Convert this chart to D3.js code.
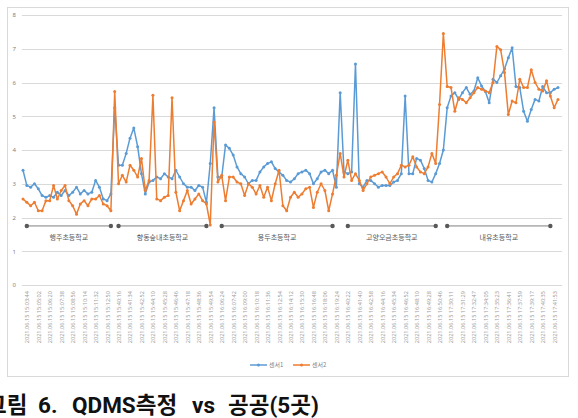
<!DOCTYPE html>
<html>
<head>
<meta charset="utf-8">
<script src="https://cdn.jsdelivr.net/npm/d3@7"></script>
<style>
  html, body { margin: 0; padding: 0; background: #fff; }
  svg { display: block; }
  text { font-family: "Noto Sans CJK KR", "Noto Sans", sans-serif; }
</style>
</head>
<body>
<svg id="chart" width="578" height="418"></svg>
<script>
// ---- data ----
const seriesNames = ["센서1", "센서2"];
const sensor1 = [
  3.4, 2.95, 2.9, 3.0, 2.85, 2.65, 2.6, 2.65, 2.6, 2.75, 2.65, 2.8, 2.65, 2.75, 2.9, 2.7, 2.8, 2.7, 2.75, 3.1, 2.9, 2.55, 2.5, 2.7,
  5.25, 3.55, 3.55, 3.9, 4.35, 4.65, 4.1, 3.3, 2.7, 3.05, 3.1, 3.2, 3.15, 3.3, 3.2, 3.15, 3.4, 3.2, 3.0, 2.9, 2.9, 2.8, 2.95, 2.9, 2.45, 3.6,
  5.25, 3.2, 3.2, 4.15, 4.05, 3.85, 3.5, 3.3, 3.2, 3.0, 3.1, 3.1, 3.35, 3.5, 3.6, 3.65, 3.45, 3.35, 3.25, 3.1, 3.05, 3.15, 3.3, 3.35, 3.4, 3.3, 3.0, 3.15, 3.35, 3.4, 3.3, 3.4, 2.9,
  5.7, 3.35, 3.3, 3.35, 6.55, 3.0, 2.9, 3.1, 3.1, 3.0, 2.9, 2.95, 2.95, 2.95, 3.05, 3.1, 3.3, 5.6, 3.3, 3.3, 3.75, 3.7, 3.45, 3.1, 3.05, 3.3, 3.6, 4.0,
  5.25, 5.6, 5.7, 5.5, 5.7, 5.85, 5.65, 5.75, 6.14, 5.9, 5.73, 5.4, 6.1, 6.0, 6.2, 6.4, 6.73, 7.03, 5.88, 5.85, 5.15, 4.85, 5.2, 5.5, 5.45, 5.88, 5.7, 5.7, 5.8, 5.85
];
const sensor2 = [
  2.55, 2.45, 2.35, 2.45, 2.2, 2.2, 2.5, 2.5, 2.95, 2.55, 2.8, 2.95, 2.5, 2.35, 2.1, 2.4, 2.5, 2.35, 2.55, 2.55, 2.65, 2.4, 2.35, 2.2,
  5.73, 3.0, 3.25, 3.05, 3.55, 3.4, 3.2, 3.75, 2.8, 3.1, 5.62, 2.55, 2.5, 2.6, 2.65, 5.55, 2.75, 2.2, 2.5, 2.8, 2.4, 2.55, 2.7, 2.5, 2.4, 1.78,
  4.83, 3.05, 3.25, 2.5, 3.2, 3.2, 3.05, 3.0, 2.65, 3.0, 2.9, 2.7, 2.95, 2.6, 2.9, 2.5, 3.0, 3.4, 2.35, 2.2, 2.6, 2.75, 2.6, 2.7, 2.85, 2.9, 2.3, 2.75, 3.0, 2.8, 2.2, 2.7, 3.25,
  3.9, 3.2, 3.7, 3.1, 3.3, 3.1, 2.8, 3.0, 3.2, 3.25, 3.3, 3.35, 3.2, 3.0, 3.2, 3.3, 3.55, 3.5, 3.55, 3.8, 3.5, 3.35, 3.3, 3.5, 3.9, 3.6, 5.35, 7.45,
  5.88, 5.85, 5.15, 5.55, 5.5, 5.4, 5.55, 5.7, 5.85, 5.8, 5.75, 5.7, 6.0, 7.07, 6.97, 6.3, 5.05, 5.45, 5.4, 6.1, 5.85, 5.85, 6.38, 6.0, 5.8, 5.75, 6.05, 5.6, 5.25, 5.5
];
// x-axis tick labels, shown every 3rd point starting at point 1
const tickLabels = [
  "2021.06.15 15:03:44","2021.06.15 15:05:02","2021.06.15 15:06:20","2021.06.15 15:07:38","2021.06.15 15:08:56","2021.06.15 15:10:14","2021.06.15 15:11:32","2021.06.15 15:12:50",
  "2021.06.15 15:40:16","2021.06.15 15:41:34","2021.06.15 15:42:52","2021.06.15 15:44:10","2021.06.15 15:45:28","2021.06.15 15:46:46","2021.06.15 15:47:18","2021.06.15 15:48:36","2021.06.15 15:49:54",
  "2021.06.15 16:06:24","2021.06.15 16:07:42","2021.06.15 16:09:00","2021.06.15 16:10:18","2021.06.15 16:11:36","2021.06.15 16:12:54","2021.06.15 16:14:12","2021.06.15 16:15:30","2021.06.15 16:16:48","2021.06.15 16:18:06","2021.06.15 16:19:24",
  "2021.06.15 16:40:22","2021.06.15 16:41:40","2021.06.15 16:42:58","2021.06.15 16:44:16","2021.06.15 16:45:34","2021.06.15 16:46:52","2021.06.15 16:48:10","2021.06.15 16:49:28","2021.06.15 16:50:46",
  "2021.06.15 17:30:11","2021.06.15 17:31:29","2021.06.15 17:32:47","2021.06.15 17:34:05","2021.06.15 17:35:23","2021.06.15 17:36:41","2021.06.15 17:37:59","2021.06.15 17:39:17","2021.06.15 17:40:35","2021.06.15 17:41:53"
];
const yTicks = [0, 1, 2, 3, 4, 5, 6, 7, 8];
const schools = ["행주초등학교", "향동숲내초등학교", "용두초등학교", "고양오금초등학교", "내유초등학교"];
const schoolStart = [1, 25, 52, 85, 111];
const schoolEnd = [23, 48, 81, 108, 138];
const schoolLevel = 1.75;
const titleParts = ["그림", "6.", "QDMS측정", "vs", "공공(5곳)"];

// ---- chart ----
const svg = d3.select("#chart");
const N = sensor1.length;
const x = d3.scalePoint().domain(d3.range(N)).range([23, 558]);
const y = d3.scaleLinear().domain([0, 8]).range([285, 15]);
const colors = ["#5B9BD5", "#ED7D31"];

// chart frame
svg.append("rect").attr("x", 7.5).attr("y", 7.5).attr("width", 561).attr("height", 369)
  .attr("fill", "#fff").attr("stroke", "#d9d9d9").attr("stroke-width", 1);

// gridlines
svg.append("g").selectAll("line").data(yTicks).join("line")
  .attr("x1", 22).attr("x2", 562)
  .attr("y1", d => Math.round(y(d)) + 0.5).attr("y2", d => Math.round(y(d)) + 0.5)
  .attr("stroke", "#d9d9d9").attr("stroke-width", 1);

// y axis labels
const yAxis = d3.axisLeft(y).tickValues(yTicks).tickSize(0).tickPadding(0);
const gy = svg.append("g").attr("transform", "translate(16,0)").call(yAxis);
gy.select(".domain").remove();
gy.selectAll("text").attr("fill", "#7f7f7f").style("font-size", "6px")
  .style("font-family", "'Noto Sans', sans-serif");

// x axis labels
const labelIdx = tickLabels.map((_, k) => 1 + 3 * k);
const xAxis = d3.axisBottom(x).tickValues(labelIdx).tickSize(0)
  .tickFormat(d => tickLabels[(d - 1) / 3]);
const gx = svg.append("g").attr("transform", "translate(0,291)").call(xAxis);
gx.select(".domain").remove();
gx.selectAll("text")
  .attr("transform", "rotate(-90)")
  .attr("text-anchor", "end")
  .attr("x", 0).attr("y", 0).attr("dy", "0.35em")
  .attr("fill", "#a0a0a0").style("font-size", "5.6px")
  .style("font-family", "'Noto Sans', sans-serif");

// school annotations
const gs = svg.append("g");
schools.forEach((s, i) => {
  const x1 = x(schoolStart[i]), x2 = x(schoolEnd[i]), yy = y(schoolLevel);
  gs.append("line").attr("x1", x1).attr("x2", x2).attr("y1", yy).attr("y2", yy)
    .attr("stroke", "#7f7f7f").attr("stroke-width", 1);
  gs.selectAll(null).data([x1, x2]).join("circle")
    .attr("cx", d => d).attr("cy", yy).attr("r", 2.2).attr("fill", "#595959");
  gs.append("text").attr("x", (x1 + x2) / 2).attr("y", yy + 14)
    .attr("text-anchor", "middle").attr("fill", "#595959")
    .style("font-size", "7px").text(s);
});

// series
[sensor1, sensor2].forEach((data, si) => {
  const line = d3.line().x((d, i) => x(i)).y(d => y(d));
  svg.append("path").datum(data).attr("d", line)
    .attr("fill", "none").attr("stroke", colors[si]).attr("stroke-width", 1.5)
    .attr("stroke-linejoin", "round");
  svg.append("g").selectAll("circle").data(data).join("circle")
    .attr("cx", (d, i) => x(i)).attr("cy", d => y(d)).attr("r", 1.5)
    .attr("fill", colors[si]);
});

// legend
const lg = svg.append("g").attr("transform", "translate(250,365)");
seriesNames.forEach((n, i) => {
  const g = lg.append("g").attr("transform", `translate(${i * 43},0)`);
  g.append("line").attr("x1", 0).attr("x2", 17).attr("y1", 0).attr("y2", 0)
    .attr("stroke", colors[i]).attr("stroke-width", 1.5);
  g.append("circle").attr("cx", 8.5).attr("cy", 0).attr("r", 1.5).attr("fill", colors[i]);
  g.append("text").attr("x", 19).attr("y", 0).attr("dy", "0.35em")
    .attr("fill", "#7f7f7f").style("font-size", "6px").text(n);
});

// caption (word positions follow the reference's wide spacing)
const titleX = [-14, 38, 72, 192, 228];
const cap = svg.append("text").attr("y", 413)
  .attr("fill", "#111").style("font-size", "22.5px").style("font-weight", "bold")
  .style("font-family", "Roboto, 'Noto Sans CJK KR', sans-serif");
titleParts.forEach((p, i) => {
  cap.append("tspan").attr("x", titleX[i]).text(p);
});
</script>
</body>
</html>
